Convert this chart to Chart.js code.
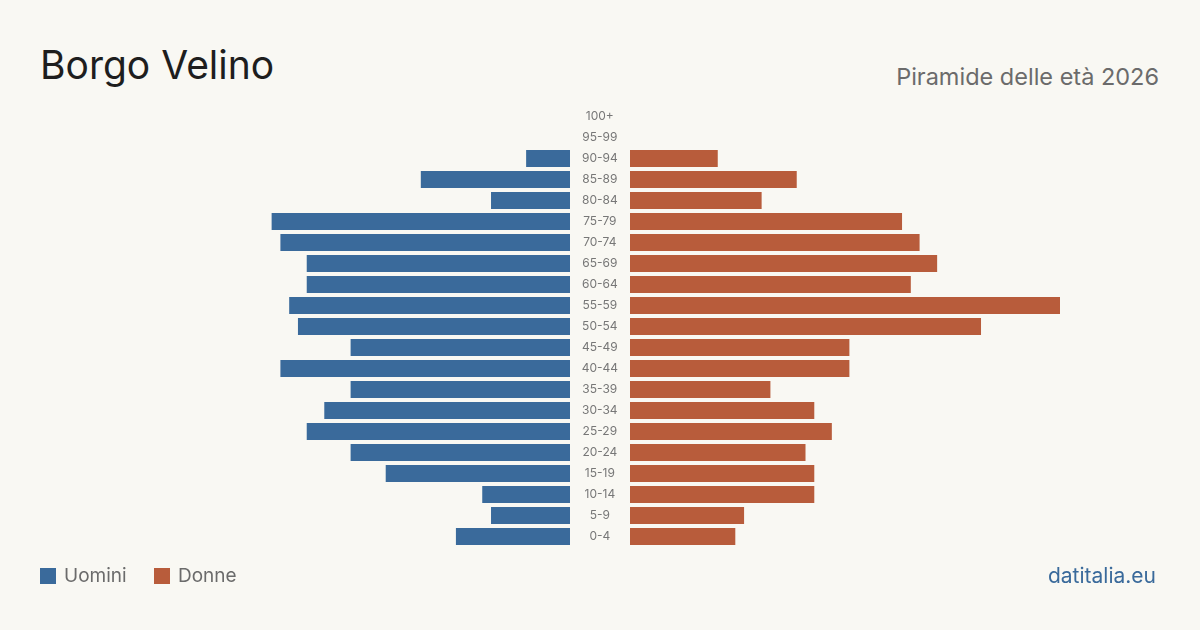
<!DOCTYPE html>
<html lang="it">
<head>
  <meta charset="utf-8">
  <title>Borgo Velino - Piramide delle età 2026</title>
  <script src="https://cdn.jsdelivr.net/npm/chart.js@4/dist/chart.umd.min.js"></script>
  <style>
    html, body { margin: 0; padding: 0; }
    body {
      width: 1200px; height: 630px; position: relative; overflow: hidden;
      background: #f9f8f3; font-family: Inter, "Noto Sans", sans-serif;
    }
    #title { position: absolute; left: 40px; top: 45px; font-size: 39px; color: #1e1e1e; line-height: 1; }
    #subtitle { position: absolute; right: 41px; top: 65px; font-size: 23.5px; color: #6b6b6b; line-height: 1; }
    .box { position: absolute; }
    #legend { position: absolute; left: 40px; top: 565px; font-size: 19px; color: #6b6b6b; line-height: 22px; }
    #legend span.sq { display: inline-block; width: 16px; height: 16px; vertical-align: -2px; margin-right: 8px; }
    #legend span.item { margin-right: 22px; }
    #source { position: absolute; right: 44px; top: 565px; font-size: 21px; color: #3a6a9b; line-height: 22px; }
  </style>
</head>
<body>
  <div id="title">Borgo Velino</div>
  <div id="subtitle">Piramide delle età 2026</div>

  <div class="box" style="left:0; top:0; width:570px; height:630px;"><canvas id="men"></canvas></div>
  <div class="box" style="left:570px; top:0; width:630px; height:630px;"><canvas id="women"></canvas></div>

  <div id="legend">
    <span class="item"><span class="sq" style="background:#3a6a9b"></span>Uomini</span>
    <span class="item"><span class="sq" style="background:#b85c3b"></span>Donne</span>
  </div>
  <div id="source">datitalia.eu</div>

<script>
  // fasce d'età, dall'alto verso il basso
  var ageGroups = ['100+', '95-99', '90-94', '85-89', '80-84', '75-79', '70-74', '65-69', '60-64',
    '55-59', '50-54', '45-49', '40-44', '35-39', '30-34', '25-29', '20-24', '15-19', '10-14', '5-9', '0-4'];
  var uomini = [0, 0, 5, 17, 9, 34, 33, 30, 30, 32, 31, 25, 33, 25, 28, 30, 25, 21, 10, 9, 13];
  var donne = [0, 0, 10, 19, 15, 31, 33, 35, 32, 49, 40, 25, 25, 16, 21, 23, 20, 21, 21, 13, 12];

  var blu = '#3a6a9b';
  var arancio = '#b85c3b';
  var maxVal = Math.max.apply(null, uomini.concat(donne));

  var common = {
    indexAxis: 'y',
    responsive: true,
    maintainAspectRatio: false,
    animation: false,
    plugins: { legend: { display: false }, tooltip: { enabled: false } }
  };

  new Chart(document.getElementById('men'), {
    type: 'bar',
    data: {
      labels: ageGroups,
      datasets: [{ label: 'Uomini', data: uomini, backgroundColor: blu, barPercentage: 0.81, categoryPercentage: 1 }]
    },
    options: Object.assign({}, common, {
      layout: { padding: { left: 140, right: 0, top: 106, bottom: 83 } },
      scales: {
        x: { display: false, reverse: true, min: 0, max: maxVal },
        y: { display: false }
      }
    })
  });

  new Chart(document.getElementById('women'), {
    type: 'bar',
    data: {
      labels: ageGroups,
      datasets: [{ label: 'Donne', data: donne, backgroundColor: arancio, barPercentage: 0.81, categoryPercentage: 1 }]
    },
    options: Object.assign({}, common, {
      layout: { padding: { left: 0, right: 140, top: 106, bottom: 83 } },
      scales: {
        x: { display: false, min: 0, max: maxVal },
        y: {
          grid: { display: false },
          border: { display: false },
          afterFit: function (scale) { scale.width = 60; },
          ticks: {
            crossAlign: 'center',
            padding: 4,
            color: '#777777',
            font: { family: 'Inter', size: 12 }
          }
        }
      }
    })
  });
</script>
</body>
</html>
